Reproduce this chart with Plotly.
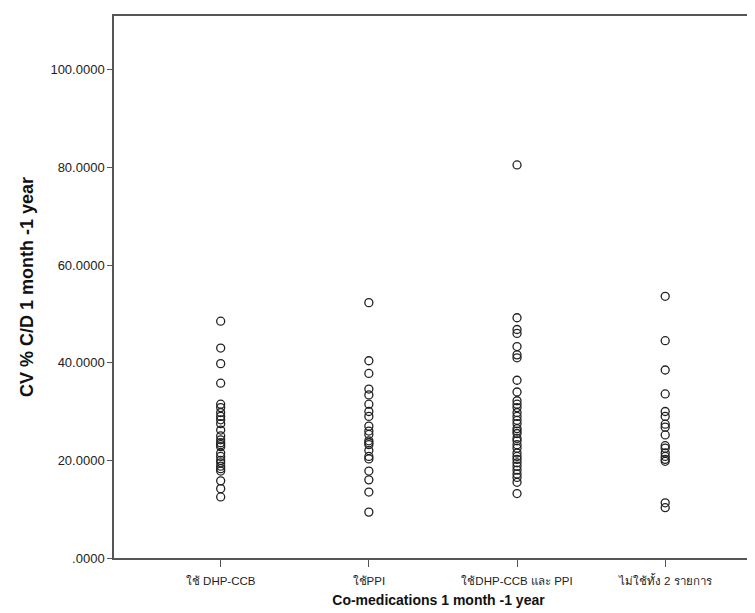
import plotly.graph_objects as go

categories = ["ใช้ DHP-CCB", "ใช้PPI", "ใช้DHP-CCB และ PPI", "ไม่ใช้ทั้ง 2 รายการ"]

dhp_ccb = [48.5, 43.0, 39.8, 35.8, 31.5, 30.8, 29.8, 29.0, 28.3, 27.5, 26.2, 25.0,
           24.2, 23.6, 23.2, 22.8, 21.5, 20.8, 20.0, 19.5, 18.8, 18.3, 17.8, 15.8,
           14.2, 12.5]
ppi = [52.3, 40.4, 37.8, 34.6, 33.4, 31.5, 30.0, 29.0, 27.0, 26.0, 25.3, 24.0,
       23.6, 23.2, 22.0, 20.8, 20.3, 17.8, 16.0, 13.5, 9.4]
dhp_ppi = [80.5, 49.2, 46.8, 46.0, 43.3, 41.6, 41.0, 36.4, 34.0, 32.2, 31.5, 30.8,
           29.8, 29.0, 28.2, 27.5, 26.5, 26.0, 25.5, 24.5, 24.0, 23.2, 22.5, 21.5,
           20.8, 20.2, 19.5, 18.8, 18.0, 17.2, 16.5, 15.5, 13.2]
neither = [53.6, 44.5, 38.5, 33.6, 30.0, 29.0, 27.4, 26.8, 25.2, 23.0, 22.5, 21.5,
           20.8, 20.2, 19.8, 11.3, 10.3]

groups = [dhp_ccb, ppi, dhp_ppi, neither]

y_tickvals = [0, 20, 40, 60, 80, 100]
y_ticktext = [".0000", "20.0000", "40.0000", "60.0000", "80.0000", "100.0000"]

fig = go.Figure()
for i, vals in enumerate(groups):
    fig.add_trace(go.Scatter(
        x=[i] * len(vals), y=vals, mode="markers",
        marker=dict(symbol="circle-open", size=8, color="#222222",
                    line=dict(width=1.3, color="#222222")),
        showlegend=False, hoverinfo="y"))

font_main = "Liberation Sans, Arial, sans-serif"
fig.update_layout(
    width=755, height=613,
    margin=dict(l=106, r=0, t=8, b=63),
    paper_bgcolor="white", plot_bgcolor="white",
    font=dict(family=font_main, color="#222222", size=11),
    xaxis=dict(
        range=[-0.72, 3.66],
        tickvals=list(range(len(categories))), ticktext=categories,
        showgrid=False, zeroline=False,
        showline=True, linecolor="#555555", linewidth=1.5, mirror=True,
        ticks="outside", ticklen=7, tickcolor="#555555", tickwidth=1,
        ticklabelstandoff=4,
        tickfont=dict(size=11.5, family=font_main, color="#222222"),
        title=dict(text="<b>Co-medications 1 month -1 year</b>",
                   font=dict(size=14, family=font_main, color="#111111"),
                   standoff=10),
    ),
    yaxis=dict(
        range=[0, 111],
        tickvals=y_tickvals, ticktext=y_ticktext,
        showgrid=False, zeroline=False,
        showline=True, linecolor="#555555", linewidth=1.5,
        ticks="outside", ticklen=5, tickcolor="#555555", tickwidth=1,
        tickfont=dict(size=13, family=font_main, color="#222222"),
        title=dict(text="<b>CV % C/D 1 month -1 year</b>",
                   font=dict(size=18, family=font_main, color="#111111"),
                   standoff=12),
    ),
)

fig.write_html("out.html")
